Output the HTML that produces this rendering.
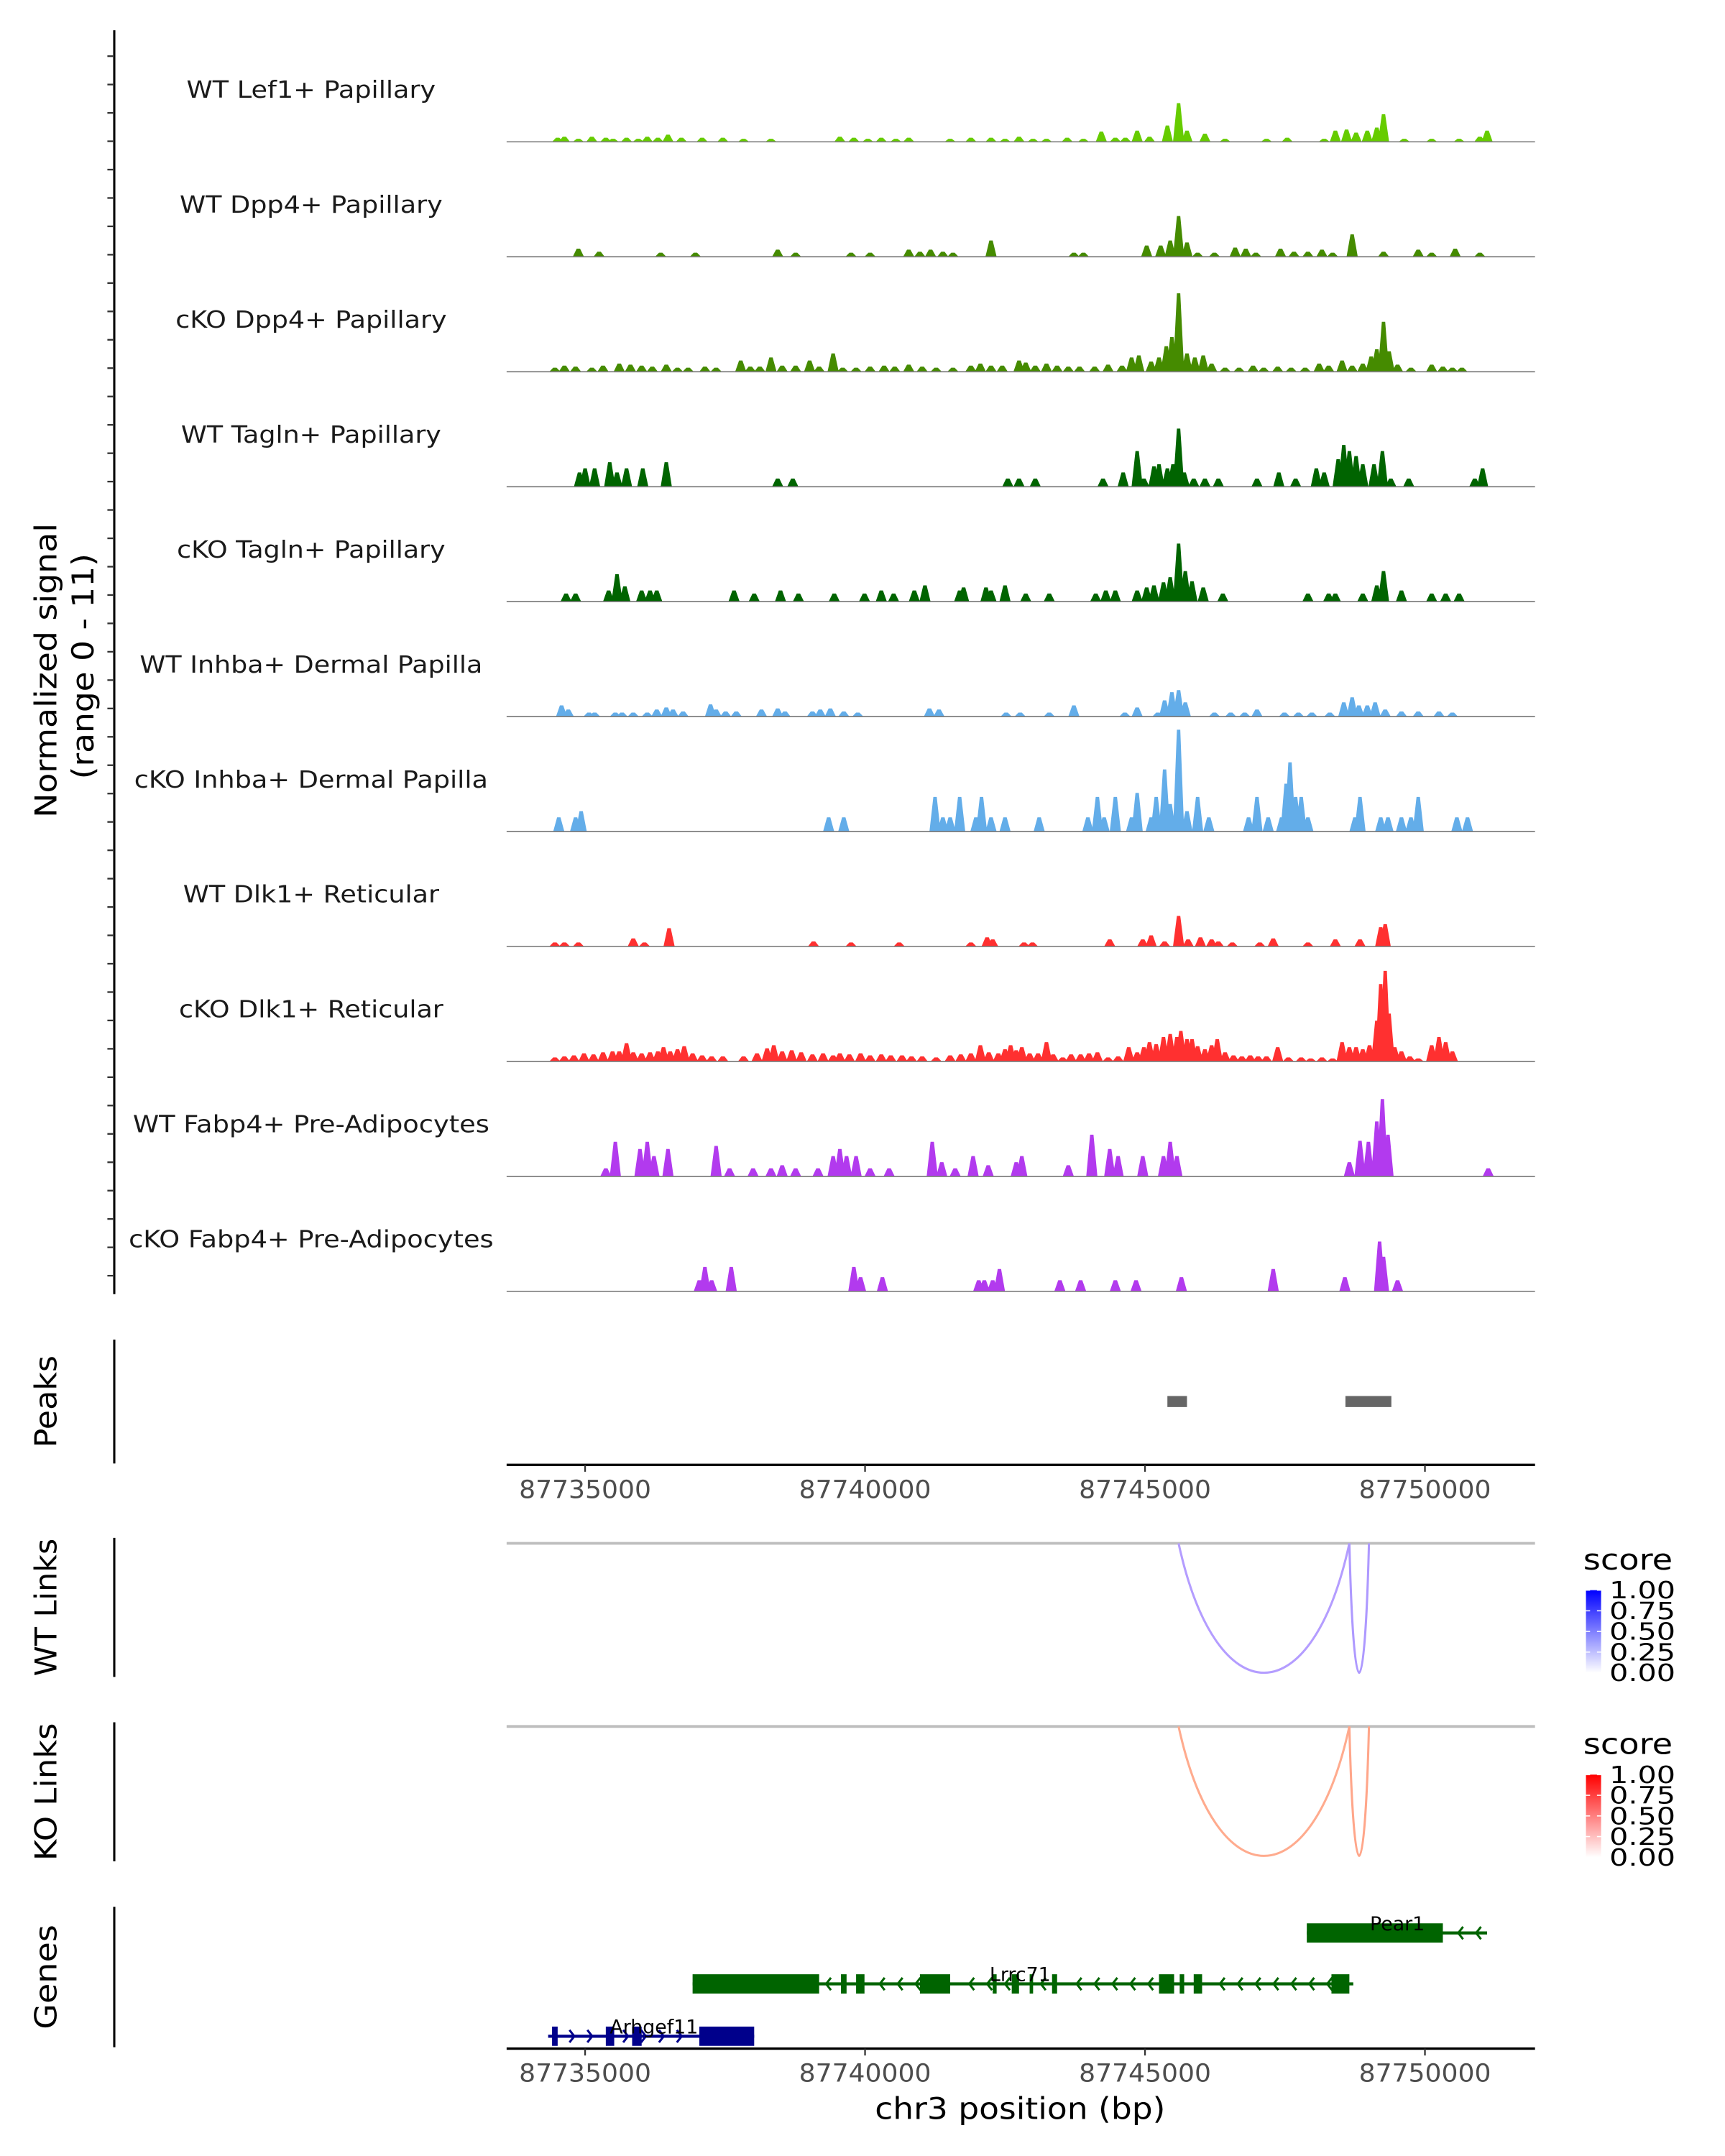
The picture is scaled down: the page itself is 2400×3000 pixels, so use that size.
<!DOCTYPE html>
<html><head><meta charset="utf-8">
<style>
html,body{margin:0;padding:0;background:#fff;}
svg{display:block;font-family:"DejaVu Sans","Liberation Sans",sans-serif;}
</style></head>
<body>
<svg id="chart" xmlns="http://www.w3.org/2000/svg" width="2400" height="3000" viewBox="0 0 1253 1566" preserveAspectRatio="none">
<defs>
<linearGradient id="gBlue" x1="0" y1="1" x2="0" y2="0"><stop offset="0" stop-color="#ffffff"/><stop offset="1" stop-color="#0000ff"/></linearGradient>
<linearGradient id="gRed" x1="0" y1="1" x2="0" y2="0"><stop offset="0" stop-color="#ffffff"/><stop offset="1" stop-color="#ff0000"/></linearGradient>
</defs>
<g id="signal"></g>
<g id="axes"></g>
<g id="links"></g>
<g id="genes"></g>
</svg>
<script>
// positions are in kb past 87,000,000 bp; values are normalized signal (range 0 - 11)
const trackNames = ["WT Lef1+ Papillary","WT Dpp4+ Papillary","cKO Dpp4+ Papillary","WT Tagln+ Papillary","cKO Tagln+ Papillary","WT Inhba+ Dermal Papilla","cKO Inhba+ Dermal Papilla","WT Dlk1+ Reticular","cKO Dlk1+ Reticular","WT Fabp4+ Pre-Adipocytes","cKO Fabp4+ Pre-Adipocytes"];
const trackColors = ["#66cc00","#458b00","#458b00","#006400","#006400","#63ade9","#63ade9","#ff3030","#ff3030","#b23aee","#b23aee"];

const lef1Pos = [734.51,734.63,734.88,735.12,735.37,735.50,735.74,735.95,736.11,736.30,736.48,736.72,737.09,737.46,737.83,738.32,739.55,739.80,740.05,740.29,740.55,740.78,741.52,741.89,742.25,742.50,742.75,743.00,743.24,743.61,743.90,744.22,744.47,744.65,744.86,745.08,745.40,745.60,745.75,746.07,746.43,747.17,747.54,748.20,748.40,748.60,748.77,748.97,749.14,749.26,749.63,750.12,750.61,750.98,751.11];
const lef1Val = [0.4,0.5,0.3,0.5,0.4,0.3,0.4,0.3,0.5,0.4,0.7,0.4,0.4,0.4,0.3,0.3,0.5,0.4,0.3,0.4,0.3,0.4,0.3,0.4,0.4,0.3,0.5,0.3,0.3,0.4,0.3,1.0,0.4,0.4,1.1,0.5,1.6,3.8,1.1,0.8,0.3,0.3,0.4,0.3,1.1,1.2,0.9,1.1,1.4,2.7,0.3,0.3,0.3,0.5,1.1];

const dpp4WtPos = [734.88,735.25,736.35,736.97,738.44,738.76,739.75,740.09,740.78,740.98,741.17,741.39,741.57,742.25,743.73,743.90,745.03,745.28,745.45,745.60,745.75,745.94,746.24,746.61,746.80,746.98,747.42,747.66,747.91,748.16,748.35,748.70,749.26,749.88,750.12,750.54,750.98];
const dpp4WtVal = [0.8,0.5,0.4,0.4,0.7,0.4,0.4,0.4,0.7,0.5,0.7,0.5,0.4,1.6,0.4,0.4,1.1,1.1,1.6,4.0,1.4,0.4,0.4,0.9,0.8,0.4,0.8,0.5,0.5,0.7,0.4,2.2,0.5,0.7,0.4,0.8,0.4];

const dpp4KoPos = [734.46,734.63,734.83,735.12,735.32,735.61,735.81,736.01,736.20,736.45,736.65,736.84,737.14,737.34,737.78,737.95,738.12,738.32,738.52,738.76,739.01,739.18,739.43,739.60,739.84,740.09,740.34,740.53,740.78,741.02,741.27,741.57,741.89,742.06,742.25,742.45,742.75,742.87,743.04,743.24,743.43,743.63,743.83,744.10,744.34,744.59,744.76,744.89,745.11,745.25,745.38,745.48,745.60,745.75,745.89,746.04,746.19,746.43,746.68,746.93,747.12,747.37,747.61,747.86,748.11,748.28,748.52,748.70,748.89,749.04,749.14,749.26,749.36,749.51,749.75,750.12,750.32,750.49,750.66];
const dpp4KoVal = [0.4,0.6,0.5,0.4,0.6,0.8,0.7,0.6,0.5,0.7,0.4,0.4,0.5,0.4,1.1,0.5,0.5,1.4,0.6,0.6,1.1,0.5,1.8,0.4,0.4,0.5,0.6,0.5,0.7,0.5,0.4,0.4,0.6,0.8,0.6,0.6,1.1,0.9,0.6,0.8,0.6,0.5,0.5,0.5,0.7,0.6,1.4,1.6,1.0,1.4,2.5,3.4,7.7,1.8,1.4,1.6,0.8,0.4,0.4,0.6,0.4,0.5,0.4,0.4,0.8,0.6,1.1,0.6,0.8,1.5,2.2,4.9,2.0,0.7,0.4,0.7,0.5,0.4,0.4];

const taglnWtPos = [734.90,735.00,735.17,735.44,735.57,735.74,736.03,736.45,738.44,738.71,742.55,742.75,743.04,744.25,744.61,744.86,744.98,745.16,745.25,745.40,745.50,745.60,745.70,745.87,746.07,746.31,747.00,747.39,747.69,748.06,748.20,748.45,748.55,748.65,748.77,748.89,749.09,749.24,749.39,749.71,750.89,751.03];
const taglnWtVal = [1.4,1.8,1.8,2.4,1.4,1.8,1.8,2.4,0.8,0.8,0.8,0.8,0.8,0.8,1.4,3.5,0.8,2.0,2.2,1.8,2.2,5.7,1.4,0.8,0.8,0.8,0.8,1.4,0.8,1.8,1.4,2.7,4.1,3.5,3.0,2.2,2.2,3.5,0.8,0.8,0.8,1.8];

const taglnKoPos = [734.66,734.83,735.42,735.57,735.71,736.01,736.16,736.28,737.66,738.02,738.49,738.81,739.45,739.99,740.29,740.51,740.88,741.07,741.69,741.76,742.16,742.25,742.50,742.87,743.29,744.12,744.30,744.47,744.86,745.03,745.16,745.33,745.45,745.60,745.72,745.84,746.04,746.39,747.91,748.28,748.40,748.89,749.14,749.26,749.58,750.12,750.37,750.61];
const taglnKoVal = [0.8,0.8,1.1,2.7,1.5,1.1,1.1,1.1,1.1,0.8,1.1,0.8,0.8,0.8,1.1,0.8,1.1,1.6,1.1,1.4,1.4,1.1,1.6,0.8,0.8,0.8,1.1,1.1,1.1,1.4,1.6,1.9,2.4,5.7,3.0,2.0,1.4,0.8,0.8,0.8,0.8,0.8,1.6,3.0,1.1,0.8,0.8,0.8];

const inhbaWtPos = [734.58,734.70,735.07,735.17,735.54,735.66,735.86,736.11,736.28,736.45,736.57,736.75,737.24,737.34,737.51,737.70,738.15,738.44,738.57,739.06,739.20,739.38,739.62,739.87,741.15,741.32,742.52,742.77,743.29,743.73,744.64,744.86,745.23,745.35,745.48,745.60,745.72,746.24,746.53,746.78,747.00,747.49,747.74,747.98,748.30,748.55,748.70,748.82,748.97,749.11,749.29,749.58,749.88,750.25,750.49];
const inhbaWtVal = [1.1,0.7,0.4,0.4,0.4,0.4,0.4,0.4,0.7,0.9,0.7,0.5,1.2,0.7,0.5,0.5,0.7,0.8,0.5,0.5,0.7,0.8,0.5,0.4,0.8,0.7,0.4,0.4,0.4,1.1,0.4,0.9,0.4,1.6,2.4,2.6,1.4,0.4,0.4,0.4,0.7,0.4,0.4,0.4,0.4,1.4,1.9,1.1,1.1,1.4,0.7,0.5,0.5,0.5,0.4];

const inhbaKoPos = [734.53,734.83,734.93,739.35,739.62,741.25,741.39,741.52,741.69,741.98,742.08,742.25,742.50,743.11,743.98,744.15,744.27,744.47,744.76,744.86,745.11,745.20,745.35,745.45,745.60,745.75,745.94,746.14,746.85,747.00,747.20,747.44,747.52,747.59,747.69,747.79,747.91,748.75,748.84,749.21,749.34,749.58,749.75,749.88,750.57,750.76];
const inhbaKoVal = [1.4,1.4,2.0,1.4,1.4,3.4,1.4,1.4,3.4,1.4,3.4,1.4,1.4,1.4,1.4,3.4,1.4,3.4,1.4,3.8,1.4,3.4,6.1,2.7,10.0,2.0,3.4,1.4,1.4,3.4,1.4,1.4,4.7,6.8,3.4,3.4,1.4,1.4,3.4,1.4,1.4,1.4,1.4,3.4,1.4,1.4];

const dlk1WtPos = [734.46,734.63,734.88,735.86,736.06,736.50,739.08,739.75,740.61,741.89,742.18,742.28,742.84,742.99,744.37,744.96,745.11,745.35,745.60,745.77,745.99,746.19,746.31,746.56,747.05,747.29,747.91,748.40,748.84,749.21,749.29];
const dlk1WtVal = [0.4,0.4,0.4,0.8,0.4,1.8,0.5,0.4,0.4,0.4,0.9,0.7,0.4,0.4,0.7,0.7,1.1,0.5,3.0,0.7,0.9,0.7,0.5,0.4,0.4,0.8,0.4,0.7,0.7,1.9,2.2];

const dlk1KoPos = [734.46,734.63,734.80,734.98,735.15,735.32,735.49,735.61,735.74,735.86,736.01,736.16,736.30,736.40,736.52,736.65,736.77,736.92,737.09,737.26,737.46,737.83,738.07,738.25,738.37,738.52,738.69,738.86,739.06,739.25,739.43,739.55,739.72,739.92,740.09,740.29,740.46,740.66,740.83,741.02,741.27,741.52,741.71,741.89,742.06,742.21,742.38,742.50,742.60,742.70,742.80,742.94,743.09,743.24,743.36,743.53,743.68,743.85,744.00,744.15,744.34,744.52,744.71,744.86,744.98,745.08,745.20,745.33,745.45,745.57,745.64,745.75,745.84,745.94,746.07,746.19,746.29,746.43,746.58,746.73,746.88,747.02,747.17,747.37,747.56,747.79,747.96,748.16,748.35,748.52,748.65,748.77,748.89,749.01,749.14,749.21,749.29,749.36,749.46,749.58,749.73,749.88,750.12,750.25,750.37,750.49];
const dlk1KoVal = [0.4,0.5,0.6,0.8,0.7,0.9,1.0,1.0,1.8,0.9,0.8,0.9,1.0,1.4,1.0,1.2,1.5,0.8,0.6,0.5,0.5,0.5,0.8,1.3,1.6,1.0,1.1,0.9,0.7,0.8,0.6,0.8,0.7,0.8,0.6,0.7,0.6,0.6,0.5,0.5,0.4,0.6,0.7,0.8,1.6,0.9,0.8,1.2,1.6,1.1,1.4,0.8,0.8,1.9,0.7,0.4,0.7,0.7,0.8,0.9,0.4,0.5,1.4,0.9,1.4,1.9,1.7,2.4,2.7,2.4,3.0,2.2,2.2,1.5,1.2,1.6,2.2,0.9,0.6,0.5,0.6,0.5,0.5,1.4,0.4,0.4,0.3,0.4,0.3,1.9,1.4,1.4,1.2,1.6,4.0,7.6,8.9,4.7,1.4,1.0,0.5,0.3,1.6,2.4,1.9,1.0];

const fabp4WtPos = [735.37,735.54,735.98,736.11,736.23,736.48,737.34,737.58,738.00,738.32,738.52,738.76,739.16,739.43,739.55,739.67,739.84,740.09,740.43,741.20,741.37,741.61,741.93,742.20,742.70,742.80,743.63,744.05,744.37,744.52,744.96,745.33,745.45,745.57,748.65,748.84,748.99,749.14,749.24,749.34,751.13];
const fabp4WtVal = [0.8,3.4,2.7,3.4,2.0,2.7,3.0,0.8,0.8,0.8,1.1,0.8,0.8,2.0,2.7,2.0,2.0,0.8,0.8,3.4,1.4,0.8,2.0,1.1,1.4,2.0,1.1,4.1,2.7,2.0,2.0,2.0,3.4,2.0,1.4,3.5,3.4,5.4,7.6,4.1,0.8];

const fabp4KoPos = [737.04,737.14,737.26,737.61,739.80,739.92,740.31,742.03,742.13,742.28,742.40,743.48,743.85,744.47,744.84,745.65,747.29,748.57,749.19,749.26,749.51];
const fabp4KoVal = [1.1,2.4,1.1,2.4,2.4,1.4,1.4,1.1,1.1,1.1,2.2,1.1,1.1,1.1,1.1,1.4,2.2,1.4,4.9,3.4,1.1];

// peaks (kb)
const peakStart = [745.40, 748.58];
const peakEnd = [745.75, 749.40];
// links (kb) and scores
const wtLinkStart = [745.60, 748.65];
const wtLinkEnd = [748.65, 749.00];
const wtLinkScore = [0.33, 0.35];
const koLinkStart = [745.60, 748.65];
const koLinkEnd = [748.65, 749.00];
const koLinkScore = [0.33, 0.35];
// genes (kb)
const geneNames = ["Pear1","Lrrc71","Arhgef11"];
const geneStart = [747.89, 736.92, 734.34];
const geneEnd = [751.11, 748.72, 738.02];
const geneStrand = [-1, -1, 1];
const pear1ExonStart = [747.89];
const pear1ExonEnd = [750.32];
const lrrc71ExonStart = [736.92,739.57,739.84,740.98,742.28,742.62,742.94,743.34,745.25,745.62,745.87,748.33];
const lrrc71ExonEnd = [739.18,739.67,739.99,741.52,742.35,742.75,742.99,743.43,745.52,745.70,746.02,748.65];
const arhgef11ExonStart = [734.41,735.37,735.84,737.04];
const arhgef11ExonEnd = [734.51,735.52,736.01,738.02];
const xTicks = [735, 740, 745, 750];
const xTickLabels = ["87735000","87740000","87745000","87750000"];
const legendTicks = [1.00, 0.75, 0.50, 0.25, 0.00];
const legendLabels = ["1.00","0.75","0.50","0.25","0.00"];

const trackPos = [lef1Pos,dpp4WtPos,dpp4KoPos,taglnWtPos,taglnKoPos,inhbaWtPos,inhbaKoPos,dlk1WtPos,dlk1KoPos,fabp4WtPos,fabp4KoPos];
const trackVal = [lef1Val,dpp4WtVal,dpp4KoVal,taglnWtVal,taglnKoVal,inhbaWtVal,inhbaKoVal,dlk1WtVal,dlk1KoVal,fabp4WtVal,fabp4KoVal];
const labelWidths = [181,191,197,189,195,249,257,186,192,259,265];

const NS = "http://www.w3.org/2000/svg";
const X0 = 368, X1 = 1115;
function xs(kb){ return 425 + (kb - 735) * 40.67; }
const TRACK_TOP = 103, TRACK_STEP = 83.5, UNIT = 7.4;
function ys(i, v){ return TRACK_TOP + i * TRACK_STEP - v * UNIT; }
function mk(tag, attrs, parent){
  const e = document.createElementNS(NS, tag);
  for (const k in attrs) e.setAttribute(k, attrs[k]);
  parent.appendChild(e); return e;
}
const gSig = document.getElementById('signal');
const gAx = document.getElementById('axes');
const gLinks = document.getElementById('links');
const gGenes = document.getElementById('genes');

for (let i = 0; i < trackNames.length; i++) {
  const base = ys(i, 0);
  const g = mk('g', {}, gSig);
  
  
  const lbl = mk('text', {x: 226, y: base - 32, 'text-anchor': 'middle', 'font-size': 17, fill: '#1a1a1a', textLength: labelWidths[i], lengthAdjust: 'spacingAndGlyphs'}, g);
  lbl.textContent = trackNames[i];
  
  
  const w = 0.1;
  let d = '';
  const P = trackPos[i], V = trackVal[i];
  for (let j = 0; j < P.length; j++) {
    const a = xs(P[j] - w), b = xs(P[j] - w * 0.3), c = xs(P[j] + w * 0.3), e = xs(P[j] + w), top = ys(i, V[j]);
    d += `M${a},${base}L${b},${top}L${c},${top}L${e},${base}Z`;
  }
  const area = mk('path', {d: d, fill: trackColors[i]}, g);
  
  
  const bl = mk('line', {x1: X0, x2: X1, y1: base, y2: base, stroke: '#7f7f7f', 'stroke-width': 0.9}, g);
  
  
}

const yl = mk('line', {x1: 83, x2: 83, y1: 22, y2: 940, stroke: '#000', 'stroke-width': 1.6}, gAx);


for (let t = 40.8; t <= 940; t += 20.6) {
  const tk = mk('line', {x1: 78, x2: 83, y1: t, y2: t, stroke: '#333', 'stroke-width': 1.2}, gAx);
  
  
}
const yt1 = mk('text', {x: 0, y: 0, transform: 'translate(41,487) rotate(-90)', 'text-anchor': 'middle', 'font-size': 22, fill: '#000', textLength: 214, lengthAdjust: 'spacingAndGlyphs'}, gAx);
yt1.textContent = 'Normalized signal';


const yt2 = mk('text', {x: 0, y: 0, transform: 'translate(68,484) rotate(-90)', 'text-anchor': 'middle', 'font-size': 22, fill: '#000', textLength: 164, lengthAdjust: 'spacingAndGlyphs'}, gAx);
yt2.textContent = '(range 0 - 11)';



const panels = [["Peaks", 973, 1063, 67], ["WT Links", 1117, 1218, 100], ["KO Links", 1251, 1352, 100], ["Genes", 1385, 1487, 76]];
for (const p of panels) {
  const l = mk('line', {x1: 83, x2: 83, y1: p[1], y2: p[2], stroke: '#000', 'stroke-width': 1.6}, gAx);
  
  
  const c = (p[1] + p[2]) / 2;
  const t = mk('text', {x: 0, y: 0, transform: `translate(41,${c}) rotate(-90)`, 'text-anchor': 'middle', 'font-size': 22, fill: '#000', textLength: p[3], lengthAdjust: 'spacingAndGlyphs'}, gAx);
  t.textContent = p[0];
  
  
}

for (let i = 0; i < peakStart.length; i++) {
  const r = mk('rect', {x: xs(peakStart[i]), y: 1014, width: xs(peakEnd[i]) - xs(peakStart[i]), height: 8, fill: '#666666'}, gAx);
  
  
}

function xAxis(y, withTitle) {
  const l = mk('line', {x1: X0, x2: X1, y1: y, y2: y, stroke: '#000', 'stroke-width': 1.8}, gAx);
  
  
  for (let i = 0; i < xTicks.length; i++) {
    const x = xs(xTicks[i]);
    const tk = mk('line', {x1: x, x2: x, y1: y, y2: y + 5, stroke: '#333', 'stroke-width': 1.2}, gAx);
    
    
    const t = mk('text', {x: x, y: y + 24, 'text-anchor': 'middle', 'font-size': 18, fill: '#4d4d4d', textLength: 96, lengthAdjust: 'spacingAndGlyphs'}, gAx);
    t.textContent = xTickLabels[i];
    
    
  }
  if (withTitle) {
    const t = mk('text', {x: 741, y: y + 51, 'text-anchor': 'middle', 'font-size': 22, fill: '#000', textLength: 211, lengthAdjust: 'spacingAndGlyphs'}, gAx);
    t.textContent = 'chr3 position (bp)';
    
    
  }
}
xAxis(1064, false);
xAxis(1488, true);

function linkPanel(y0, starts, ends, scores, rgbFn, grad, legendTop) {
  const bl = mk('line', {x1: X0, x2: X1, y1: y0, y2: y0, stroke: '#bebebe', 'stroke-width': 2}, gLinks);
  
  
  const depth = 94;
  for (let i = 0; i < starts.length; i++) {
    const a = xs(starts[i]), b = xs(ends[i]), cy = y0 + depth * 4 / 3;
    const p = mk('path', {d: `M${a},${y0}C${a + (b - a) * 0.22},${cy} ${b - (b - a) * 0.22},${cy} ${b},${y0}`, fill: 'none', stroke: rgbFn(scores[i]), 'stroke-width': 1.6}, gLinks);
    
    
  }
  const st = mk('text', {x: 1150, y: legendTop - 15, 'font-size': 21, fill: '#000', textLength: 65, lengthAdjust: 'spacingAndGlyphs'}, gLinks);
  st.textContent = 'score';
  
  
  const bar = mk('rect', {x: 1152, y: legendTop, width: 11, height: 60, fill: `url(#${grad})`}, gLinks);
  
  
  for (let i = 0; i < legendTicks.length; i++) {
    const yy = legendTop + (1 - legendTicks[i]) * 60;
    mk('line', {x1: 1152, x2: 1155, y1: yy, y2: yy, stroke: '#fff', 'stroke-width': 0.8}, gLinks);
    mk('line', {x1: 1160, x2: 1163, y1: yy, y2: yy, stroke: '#fff', 'stroke-width': 0.8}, gLinks);
    const t = mk('text', {x: 1169, y: yy + 6, 'font-size': 17, fill: '#000', textLength: 48, lengthAdjust: 'spacingAndGlyphs'}, gLinks);
    t.textContent = legendLabels[i];
    
    
  }
}
const blueFn = s => { const v = Math.round(255 * (1 - s)); return `rgb(${Math.round(v*1.05)},${Math.round(v*0.92)},255)`; };
const redFn = s => { const v = Math.round(255 * (1 - s)); return `rgb(255,${v},${Math.round(v*0.83)})`; };
linkPanel(1121, wtLinkStart, wtLinkEnd, wtLinkScore, blueFn, 'gBlue', 1155);
linkPanel(1254, koLinkStart, koLinkEnd, koLinkScore, redFn, 'gRed', 1289);

const geneRows = [1404, 1441, 1479];
const geneColors = ["#006400", "#006400", "#00008b"];
const exStarts = [pear1ExonStart, lrrc71ExonStart, arhgef11ExonStart];
const exEnds = [pear1ExonEnd, lrrc71ExonEnd, arhgef11ExonEnd];
const labelX = [1015, 741, 475];
for (let i = 0; i < geneNames.length; i++) {
  const y = geneRows[i], col = geneColors[i];
  const g = mk('g', {}, gGenes);
  
  
  const a = xs(geneStart[i]), b = xs(geneEnd[i]);
  mk('line', {x1: a, x2: b, y1: y, y2: y, stroke: col, 'stroke-width': 2.2}, g);
  for (let x = a + 6; x < b - 3; x += 13) {
    let inside = false;
    for (let j = 0; j < exStarts[i].length; j++) if (x > xs(exStarts[i][j]) - 3 && x < xs(exEnds[i][j]) + 3) inside = true;
    if (inside) continue;
    const s = geneStrand[i];
    const ch = mk('polyline', {points: `${x - 3.5 * s},${y - 4.5} ${x},${y} ${x - 3.5 * s},${y + 4.5}`, fill: 'none', stroke: col, 'stroke-width': 1.6}, g);
    
    
  }
  for (let j = 0; j < exStarts[i].length; j++) {
    const x1 = xs(exStarts[i][j]), x2 = xs(exEnds[i][j]);
    const r = mk('rect', {x: x1, y: y - 7, width: Math.max(2.5, x2 - x1), height: 14, fill: col}, g);
    
    
  }
  const t = mk('text', {x: labelX[i], y: y - 2, 'text-anchor': 'middle', 'font-size': 14, fill: '#000'}, g);
  t.textContent = geneNames[i];
  
  
}
</script>
</body></html>
